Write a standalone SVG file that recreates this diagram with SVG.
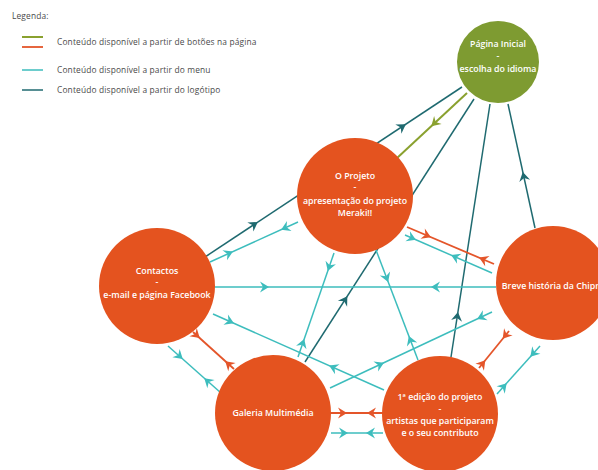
<svg xmlns="http://www.w3.org/2000/svg" width="598" height="470" viewBox="0 0 598 470">
<style>
.bg{fill:#ffffff}
.n{fill:#e4531f}
.g{fill:#7e9b31}
.t{font-family:"Open Sans","Liberation Sans",sans-serif;font-size:8.8px;font-weight:600;fill:#ffffff;text-anchor:middle}
.lg{font-family:"Open Sans","Liberation Sans",sans-serif;font-size:8.4px;letter-spacing:0.15px;fill:#4a4a4a}
.cy{stroke:#3dbdbd;stroke-width:1.5;fill:none}
.dk{stroke:#1f6a70;stroke-width:1.5;fill:none}
.rd{stroke:#e4552a;stroke-width:1.8;fill:none}
.ol{stroke:#8aa12f;stroke-width:2;fill:none}
.ah{stroke:none;fill:none}
.acy{marker-end:url(#mcy)}
.adk{marker-end:url(#mdk)}
.ard{marker-end:url(#mrd)}
.aol{marker-end:url(#mol)}
</style>
<defs>
<marker id="mcy" viewBox="-10 -7 12 14" refX="0" refY="0" markerWidth="12" markerHeight="14" markerUnits="userSpaceOnUse" orient="auto"><path d="M1,0 L-8,-5.5 L-5,0 L-8,5.5 Z" fill="#3dbdbd"/></marker>
<marker id="mdk" viewBox="-10 -7 12 14" refX="0" refY="0" markerWidth="12" markerHeight="14" markerUnits="userSpaceOnUse" orient="auto"><path d="M1,0 L-8,-5.5 L-5,0 L-8,5.5 Z" fill="#1f6a70"/></marker>
<marker id="mrd" viewBox="-10 -7 12 14" refX="0" refY="0" markerWidth="12" markerHeight="14" markerUnits="userSpaceOnUse" orient="auto"><path d="M1,0 L-8,-5.5 L-5,0 L-8,5.5 Z" fill="#e4552a"/></marker>
<marker id="mol" viewBox="-10 -7 12 14" refX="0" refY="0" markerWidth="12" markerHeight="14" markerUnits="userSpaceOnUse" orient="auto"><path d="M1,0 L-8,-5.5 L-5,0 L-8,5.5 Z" fill="#8aa12f"/></marker>
</defs>
<rect class="bg" x="0" y="0" width="598" height="470"/>

<g id="legend">
<text class="lg" x="12" y="19" font-size="7">Legenda:</text>
<line x1="22" y1="37" x2="43" y2="37" class="ol" stroke-width="2.5"/>
<line x1="22" y1="47" x2="43" y2="47" class="rd" stroke-width="2.5"/>
<text class="lg" x="57" y="45">Conteúdo disponível a partir de botões na página</text>
<line x1="22" y1="70" x2="43" y2="70" class="cy" stroke-width="2.5"/>
<text class="lg" x="57" y="73">Conteúdo disponível a partir do menu</text>
<line x1="22" y1="90" x2="43" y2="90" class="dk" stroke-width="2.5"/>
<text class="lg" x="57" y="93">Conteúdo disponível a partir do logótipo</text>
</g>

<g id="connectors">
<!-- logo links (dark) -->
<path class="dk" d="M205,257 L462,87"/>
<path class="ah adk" d="M205,257 L257,222.6"/>
<path class="ah adk" d="M205,257 L405,124.7"/>
<path class="dk" d="M305,362 L474,99"/>
<path class="ah adk" d="M305,362 L346.8,297"/>
<path class="dk" d="M451,357 L490,104"/>
<path class="ah adk" d="M451,357 L457.8,313"/>
<path class="dk" d="M535,228 L508,104"/>
<path class="ah adk" d="M535,228 L523,173"/>
<!-- button link from home (olive) -->
<path class="ol" d="M467,93 L396,159"/>
<path class="ah aol" d="M467,93 L432,125.5"/>
<!-- menu links (cyan) -->
<path class="cy" d="M210,262 L298,222"/>
<path class="ah acy" d="M210,262 L232,252"/>
<path class="ah acy" d="M298,222 L282,229.3"/>
<path class="cy" d="M214,287 L496,287"/>
<path class="ah acy" d="M214,287 L268,287"/>
<path class="ah acy" d="M496,287 L432,287"/>
<path class="cy" d="M213,314 L384,390"/>
<path class="ah acy" d="M213,314 L233,322.9"/>
<path class="ah acy" d="M384,390 L330,366"/>
<path class="cy" d="M168,346 L221,393"/>
<path class="ah acy" d="M168,346 L182,358.4"/>
<path class="ah acy" d="M221,393 L205,378.8"/>
<path class="cy" d="M334,253 L298,357"/>
<path class="ah acy" d="M334,253 L328.1,270"/>
<path class="ah acy" d="M298,357 L303.9,340"/>
<path class="cy" d="M376,250 L418,360"/>
<path class="ah acy" d="M376,250 L387.8,281"/>
<path class="ah acy" d="M418,360 L409.2,337"/>
<path class="cy" d="M405,235 L492,273"/>
<path class="ah acy" d="M405,235 L415,239.4"/>
<path class="ah acy" d="M492,273 L452,255.5"/>
<path class="cy" d="M330,388 L492,312"/>
<path class="ah acy" d="M330,388 L383,363.1"/>
<path class="ah acy" d="M492,312 L478,318.6"/>
<path class="cy" d="M331,433 L383,433"/>
<path class="ah acy" d="M331,433 L347,433"/>
<path class="ah acy" d="M383,433 L367,433"/>
<path class="cy" d="M540,346 L497,394"/>
<path class="ah acy" d="M540,346 L531,356"/>
<path class="ah acy" d="M497,394 L506,384"/>
<!-- button links (red) -->
<path class="rd" d="M193,332 L234,369"/>
<path class="ah ard" d="M193,332 L199,337.4"/>
<path class="ah ard" d="M234,369 L226,361.8"/>
<path class="rd" d="M407,227 L494,264"/>
<path class="ah ard" d="M407,227 L430,236.8"/>
<path class="ah ard" d="M494,264 L480,258"/>
<path class="rd" d="M331,413 L383,413"/>
<path class="ah ard" d="M331,413 L346,413"/>
<path class="ah ard" d="M383,413 L368,413"/>
<path class="rd" d="M509,331 L479,368"/>
<path class="ah ard" d="M509,331 L503.3,338"/>
<path class="ah ard" d="M479,368 L484.7,361"/>
</g>

<g id="inicio">
<circle class="g" cx="498" cy="62" r="41"/>
<text class="t" x="498" y="47">Página Inicial</text>
<text class="t" x="498" y="59">-</text>
<text class="t" x="498" y="72">escolha do idioma</text>
</g>

<g id="projeto">
<circle class="n" cx="355" cy="196" r="58"/>
<text class="t" x="355" y="179">O Projeto</text>
<text class="t" x="355" y="190">-</text>
<text class="t" x="355" y="204">apresentação do projeto</text>
<text class="t" x="355" y="216">Meraki!!</text>
</g>

<g id="contactos">
<circle class="n" cx="157" cy="286" r="58"/>
<text class="t" x="157" y="274">Contactos</text>
<text class="t" x="157" y="285">-</text>
<text class="t" x="157" y="298">e-mail e página Facebook</text>
</g>

<g id="historia">
<circle class="n" cx="553" cy="283" r="57"/>
<text class="t" x="553" y="289">Breve história da Chipre</text>
</g>

<g id="galeria">
<circle class="n" cx="273" cy="413" r="58"/>
<text class="t" x="273" y="416">Galeria Multimédia</text>
</g>

<g id="edicao">
<circle class="n" cx="440" cy="414" r="58"/>
<text class="t" x="440" y="400">1ª edição do projeto</text>
<text class="t" x="440" y="412">-</text>
<text class="t" x="440" y="424">artistas que participaram</text>
<text class="t" x="440" y="436">e o seu contributo</text>
</g>
</svg>
